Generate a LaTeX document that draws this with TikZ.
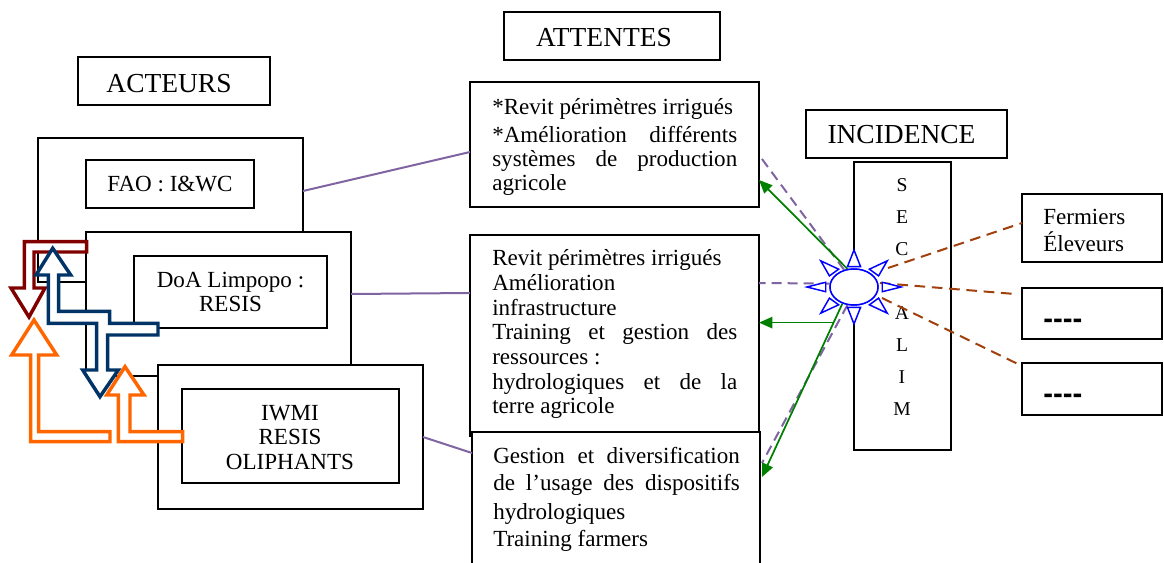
\documentclass[tikz,border=0pt]{standalone}
\usepackage{fontspec}
\setmainfont{Liberation Serif}
\newfontfamily\dashfont{Liberation Sans}
\usetikzlibrary{arrows.meta,fit,calc,shapes.geometric}
\definecolor{vio}{HTML}{8064A2}
\definecolor{brn}{HTML}{A0410D}
\definecolor{grn}{HTML}{008000}
\definecolor{dred}{HTML}{800000}
\definecolor{navy}{HTML}{003366}
\definecolor{orng}{HTML}{FF6600}
\newcommand\bodyfont{\fontsize{17.3}{18.5}\selectfont}
\newcommand\titlefont{\fontsize{20.6}{24}\selectfont}
\newcommand\secfont{\fontsize{14.7}{16}\selectfont}
\begin{document}
\begin{tikzpicture}[x=0.75pt,y=-0.75pt,
  box/.style={draw, line width=1.3pt, fill=white, inner sep=0pt, outer sep=0pt},
  txt/.style={inner sep=0pt, font=\bodyfont, align=center},
  ln/.style={inner sep=0pt, font=\bodyfont, anchor=mid west, yshift=-3pt},
  ttl/.style={inner sep=0pt, font=\titlefont},
  blockarrow/.style={line width=2.6pt, line join=miter},
  violine/.style={vio, line width=1.5pt},
  viodash/.style={vio, line width=1.5pt, dash pattern=on 7.5pt off 4.5pt},
  brndash/.style={brn, line width=1.5pt, dash pattern=on 8pt off 5pt},
  grnarrow/.style={grn, line width=1.3pt, -{Triangle[length=10pt,width=8.5pt]}},
  sunline/.style={draw=blue, line width=1.1pt, fill=white, line join=miter}
]
\useasboundingbox (0,0) rectangle (1164,563);
\clip (0,0) rectangle (1164,563);

% titles
\node[box, fit={(78,57)(270,105)}] (actB) {};
\node[ttl] (actT) at (169,83.5) {ACTEURS};
\node[box, fit={(504,12)(720,60)}] (attB) {};
\node[ttl] (attT) at (604,37.5) {ATTENTES};
\node[box, fit={(806,110)(1007,158)}] (incB) {};
\node[ttl] (incT) at (901.5,135) {INCIDENCE};

% actors
\node[box, fit={(38,138)(303,282)}] (faoO) {};
\node[box, fit={(86,160)(254,208)}] (faoI) {};
\node[txt] (faoT) at (170,184) {FAO : I\&WC};
\node[box, fit={(86,232)(351,376)}] (doaO) {};
\node[box, fit={(134,256)(327,328)}] (doaI) {};
\node[txt] (doaT) at (230.5,292) {DoA Limpopo :\\RESIS};
\node[box, fit={(158,365)(423,509)}] (iwO) {};
\node[box, fit={(182,389)(399,483)}] (iwI) {};
\node[txt] (iwT) at (290,437.5) {IWMI\\RESIS\\OLIPHANTS};

% block arrows
\draw[blockarrow, draw=dred, fill=white] (86.7,241.7) -- (24.3,241.7) -- (24.3,288) -- (11,288) -- (29,317) -- (45,288) -- (34,288) -- (34,252) -- (86.7,252) -- cycle;
\draw[blockarrow, draw=navy, fill=white] (52.7,248.3) -- (70.7,275) -- (58.7,275) -- (58.7,311.3) -- (109.7,311.3) -- (109.7,323.3) -- (158,323.3) -- (158,335) -- (107.7,335) -- (107.7,370) -- (118.3,370) -- (100,396.7) -- (82.7,370) -- (96.7,370) -- (96.7,323.3) -- (48.3,323.3) -- (48.3,275) -- (36,275) -- cycle;
\draw[blockarrow, draw=orng, fill=white] (34,320) -- (56.7,355) -- (38.7,355) -- (38.7,431.7) -- (110,431.7) -- (110,441.7) -- (30.7,441.7) -- (30.7,355) -- (11.7,355) -- cycle;
\draw[blockarrow, draw=orng, fill=white] (125,366.7) -- (144,395) -- (130,395) -- (130,431.7) -- (182.7,431.7) -- (182.7,441.7) -- (118.3,441.7) -- (118.3,395) -- (106.7,395) -- cycle;

% expectations
\node[box, fit={(470,82)(759,207)}] (a1) {};
\node[box, fit={(470,235)(759,436)}] (a2) {};
\node[box, fit={(472,432)(760,580)}] (a3) {};

\node[ln] (a1l1) at (492,107) {*Revit périmètres irrigués};
\node[ln] (a1l2) at (492,135) {\makebox[183.75pt][s]{*Amélioration différents}};
\node[ln] (a1l3) at (492,159) {\makebox[183.75pt][s]{systèmes de production}};
\node[ln] (a1l4) at (492,183) {agricole};

\node[ln] (a2l1) at (492,258) {Revit périmètres irrigués};
\node[ln] (a2l2) at (492,283) {Amélioration};
\node[ln] (a2l3) at (492,308) {infrastructure};
\node[ln] (a2l4) at (492,332) {\makebox[183.75pt][s]{Training et gestion des}};
\node[ln] (a2l5) at (492,357) {ressources :};
\node[ln] (a2l6) at (492,382) {\makebox[183.75pt][s]{hydrologiques et de la}};
\node[ln] (a2l7) at (492,406) {terre agricole};

\node[ln] (a3l1) at (493,456) {\makebox[185pt][s]{Gestion et diversification}};
\node[ln] (a3l2) at (493,483) {\makebox[185pt][s]{de l’usage des dispositifs}};
\node[ln] (a3l3) at (493,512) {hydrologiques};
\node[ln] (a3l4) at (493,539) {Training farmers};

% purple solid links
\draw[violine] (faoO.east |- 0,191) -- (a1.west |- 0,152);
\draw[violine] (doaO.east |- 0,294) -- (a2.west |- 0,293);
\draw[violine] (iwO.east |- 0,437) -- (a3.west |- 0,453);

% SECALIM column
\node[fit={(854,162)(951,450)}, inner sep=0pt, outer sep=0pt] (sec) {};
\draw[line width=1.3pt] (sec.west |- 0,250) -- (sec.north west) -- (sec.north east) -- (sec.south east) -- (sec.south west) -- (sec.west |- 0,323);
\foreach \l/\yy in {S/185,E/217,C/249,A/313,L/345,I/377,M/409}
  \node[inner sep=0pt, font=\secfont] (sec\l) at (902,\yy) {\l};

% right boxes
\node[box, fit={(1022,194)(1162,262)}] (r1) {};
\node[box, fit={(1022,288)(1162,339)}] (r2) {};
\node[box, fit={(1022,363)(1162,415)}] (r3) {};
\node[ln] (r1a) at (1043,217) {Fermiers};
\node[ln] (r1b) at (1043,244) {Éleveurs};
\node[inner sep=0pt, anchor=base west, font=\dashfont\bfseries\fontsize{22}{24}\selectfont] (r2t) at (1043,328) {-{}-{}-{}-};
\node[inner sep=0pt, anchor=base west, font=\dashfont\bfseries\fontsize{22}{24}\selectfont] (r3t) at (1043,403) {-{}-{}-{}-};

% sun centre
\coordinate (sunc) at (854,287);
\node[ellipse, draw=blue, line width=1.1pt, fill=white, minimum width=36pt, minimum height=27pt, inner sep=0pt] (sun) at (sunc) {};

% dashed and green connectors
\draw[viodash] (sun.120) -- (a1.east |- 0,155);
\draw[viodash] (sun.172) -- (a2.east |- 0,283);
\draw[viodash] (sun.250) -- ($(a3.east |- 0,463)+(2,0)$);
\draw[grnarrow] (sun.110) -- (a1.east |- 0,180);
\coordinate (g3s) at (sun.235);
\coordinate (g3e) at ($(a3.east |- 0,477)+(2,0)$);
\draw[grnarrow] (g3s) -- (g3e);
\coordinate (g2s) at ($(g3s)!0.11!(g3e)$);
\draw[grnarrow] (g2s) -- (a2.east |- g2s);
\coordinate (b1s) at ($(sunc)+(34,-19)$);
\coordinate (b2s) at ($(sunc)+(26,-4)$);
\coordinate (b3s) at ($(sunc)+(28,11)$);
\coordinate (b2e) at (1015,294);
\draw[brndash] (b1s) -- (r1.west |- 0,223);
\draw[brndash] (b2s) -- (b2e);
\draw[brndash] (b3s) -- ($(r3.north west)+(0,3)$);

% sun rays
\foreach \a in {0,45,...,315}{
  \pgfmathsetmacro\aL{\a+13}
  \pgfmathsetmacro\aR{\a-13}
  \draw[sunline] ($(sunc)+(\a:47 and 37)$) -- ($(sunc)+(\aL:29 and 21)$) -- ($(sunc)+(\aR:29 and 21)$) -- cycle;
}
\node[ellipse, draw=blue, line width=1.1pt, fill=white, minimum width=36pt, minimum height=27pt, inner sep=0pt] (sunE) at (sunc) {};
\end{tikzpicture}
\end{document}
